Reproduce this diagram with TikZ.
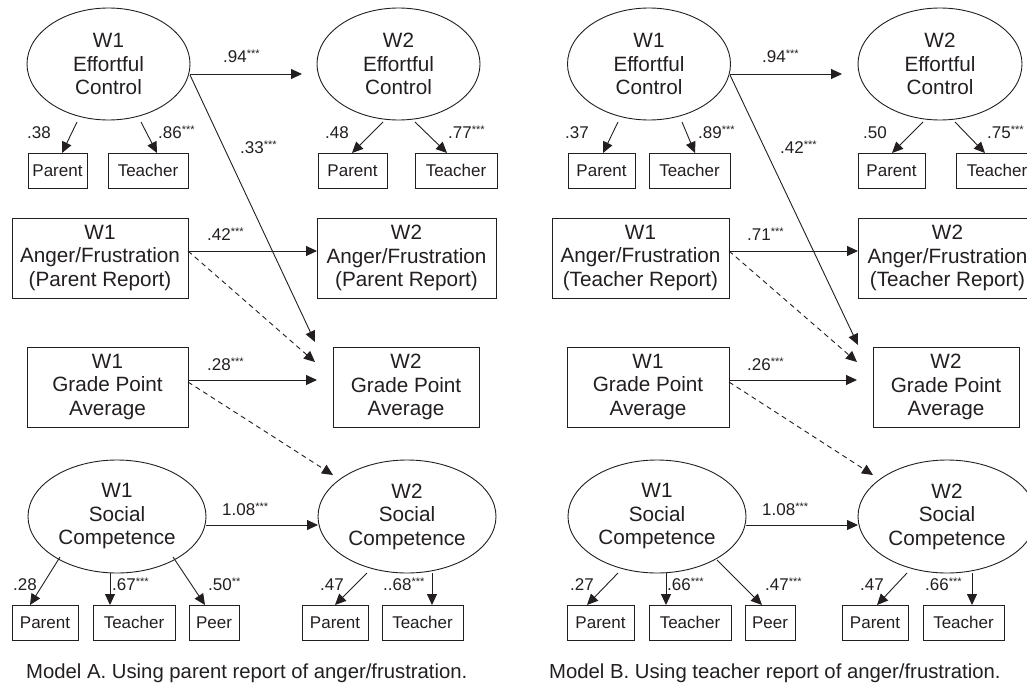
\documentclass[tikz,border=0pt]{standalone}
\usepackage{fontspec}
\setmainfont{Liberation Sans}
\usetikzlibrary{shapes.geometric,arrows.meta,calc}
\definecolor{ink}{HTML}{231F20}
\newcommand\sig[1]{\raisebox{5pt}{\fontsize{11}{11}\selectfont #1}}
\tikzset{
  lat/.style={ellipse,draw=ink,line width=0.9pt,inner sep=0pt,minimum width=163pt,minimum height=112pt,align=center,text=ink,font=\fontsize{20.7}{23.5}\selectfont},
  bigbox/.style={rectangle,draw=ink,line width=0.9pt,inner sep=0pt,minimum height=80pt,align=center,text=ink,font=\fontsize{20.7}{23.5}\selectfont},
  ind/.style={rectangle,draw=ink,line width=0.9pt,inner sep=0pt,minimum height=35pt,text=ink,font=\fontsize{17}{19}\selectfont},
  lab/.style={anchor=base west,inner sep=0pt,text=ink,font=\fontsize{17}{18}\selectfont},
  captxt/.style={anchor=base west,inner sep=0pt,text=ink,font=\fontsize{20.3}{24}\selectfont},
  arr/.style={draw=ink,line width=0.9pt,-{Triangle[length=11pt,width=10pt]}},
  darr/.style={arr,dash pattern=on 5pt off 4pt},
}
\begin{document}
\begin{tikzpicture}[x=1pt,y=-1pt]
\useasboundingbox (0,0) rectangle (1027,685);
\clip (0,0) rectangle (1027,685);
\fill[white] (0,0) rectangle (1027,685);

% ================= Panel A =================
\node[lat] (ec1A) at (108.5,64) {W1\\Effortful\\Control};
\node[lat] (ec2A) at (398.5,64) {W2\\Effortful\\Control};
\node[ind,minimum width=59pt] (p1A) at (57.5,170.5) {Parent};
\node[ind,minimum width=80pt] (t1A) at (148,170.5) {Teacher};
\node[ind,minimum width=69pt] (p2A) at (352.5,170.5) {Parent};
\node[ind,minimum width=82pt] (t2A) at (456,170.5) {Teacher};
\node[bigbox,minimum width=176pt] (ang1A) at (100,258) {W1\\Anger/Frustration\\(Parent Report)};
\node[bigbox,minimum width=179pt] (ang2A) at (406.5,258) {W2\\Anger/Frustration\\(Parent Report)};
\node[bigbox,minimum width=161pt] (gpa1A) at (107.5,387) {W1\\Grade Point\\Average};
\node[bigbox,minimum width=146pt] (gpa2A) at (406,387) {W2\\Grade Point\\Average};
\node[lat,minimum width=178pt,minimum height=113pt] (sc1A) at (117,516.5) {W1\\Social\\Competence};
\node[lat,minimum width=178pt,minimum height=113pt] (sc2A) at (407,516.5) {W2\\Social\\Competence};
\node[ind,minimum width=66pt] (bp1A) at (45,622.5) {Parent};
\node[ind,minimum width=82pt] (bt1A) at (134,622.5) {Teacher};
\node[ind,minimum width=50pt] (bpe1A) at (214,622.5) {Peer};
\node[ind,minimum width=66pt] (bp2A) at (335,622.5) {Parent};
\node[ind,minimum width=81pt] (bt2A) at (422.5,622.5) {Teacher};

\draw[arr] ($(ec1A)+(81.5,10)$) -- ($(ec2A)+(-96.5,10)$);
\draw[arr] ($(ec1A)+(81.5,11)$) -- ($(gpa2A)+(-91,-45)$);
\draw[arr] ($(ec1A)+(-31.5,58)$) -- ($(p1A)+(4.5,-17.5)$);
\draw[arr] ($(ec1A)+(32.5,58)$) -- ($(t1A)+(9,-17.5)$);
\draw[arr] ($(ec2A)+(-15.5,58)$) -- ($(p2A)+(-0.5,-17.5)$);
\draw[arr] ($(ec2A)+(16.5,58)$) -- ($(t2A)+(-9,-17.5)$);
\draw[arr] ($(ang1A)+(88,-7)$) -- ($(ang2A)+(-89.5,-7)$);
\draw[darr] ($(ang1A)+(88,-7)$) -- ($(gpa2A)+(-91,-25)$);
\draw[arr] ($(gpa1A)+(80.5,-7)$) -- ($(gpa2A)+(-89,-7)$);
\draw[darr] ($(gpa1A)+(80.5,-5)$) -- ($(sc2A)+(-74,-41.5)$);
\draw[arr] ($(sc1A)+(89,8.5)$) -- ($(sc2A)+(-89,8.5)$);
\draw[arr] ($(sc1A)+(-57,40.5)$) -- ($(bp1A)+(-15,-17.5)$);
\draw[arr] ($(sc1A)+(-7,56.5)$) -- ($(bt1A)+(-24,-17.5)$);
\draw[arr] ($(sc1A)+(56,40.5)$) -- ($(bpe1A)+(-9,-17.5)$);
\draw[arr] ($(sc2A)+(-40,56.5)$) -- ($(bp2A)+(0,-17.5)$);
\draw[arr] ($(sc2A)+(25,56.5)$) -- ($(bt2A)+(9.5,-17.5)$);

\node[lab] (lA1) at (223,63) {.94\sig{***}};
\node[lab] (lA2) at (240,153) {.33\sig{***}};
\node[lab] (lA3) at (27,138) {.38};
\node[lab] (lA4) at (158,138) {.86\sig{***}};
\node[lab] (lA5) at (325,138) {.48};
\node[lab] (lA6) at (448,138) {.77\sig{***}};
\node[lab] (lA7) at (207,240) {.42\sig{***}};
\node[lab] (lA8) at (207,370) {.28\sig{***}};
\node[lab] (lA9) at (222,515) {1.08\sig{***}};
\node[lab] (lA10) at (13,590) {.28};
\node[lab] (lA11) at (112,590) {.67\sig{***}};
\node[lab] (lA12) at (208,590) {.50\sig{**}};
\node[lab] (lA13) at (320,590) {.47};
\node[lab] (lA14) at (383,590) {..68\sig{***}};
\node[captxt] (capA) at (26,678) {Model A. Using parent report of anger/frustration.};

% ================= Panel B =================
\node[lat] (ec1B) at (649,64) {W1\\Effortful\\Control};
\node[lat,minimum width=164pt] (ec2B) at (940,64) {W2\\Effortful\\Control};
\node[ind,minimum width=67pt] (p1B) at (601.5,170.5) {Parent};
\node[ind,minimum width=81pt] (t1B) at (689.5,170.5) {Teacher};
\node[ind,minimum width=67pt] (p2B) at (891.5,170.5) {Parent};
\node[ind,minimum width=82pt] (t2B) at (997,170.5) {Teacher};
\node[bigbox,minimum width=177pt] (ang1B) at (640.5,258) {W1\\Anger/Frustration\\(Teacher Report)};
\node[bigbox,minimum width=179pt] (ang2B) at (947.5,258) {W2\\Anger/Frustration\\(Teacher Report)};
\node[bigbox,minimum width=162pt] (gpa1B) at (648,387) {W1\\Grade Point\\Average};
\node[bigbox,minimum width=146pt] (gpa2B) at (946,387) {W2\\Grade Point\\Average};
\node[lat,minimum width=178pt,minimum height=113pt] (sc1B) at (657,516.5) {W1\\Social\\Competence};
\node[lat,minimum width=178pt,minimum height=113pt] (sc2B) at (947,516.5) {W2\\Social\\Competence};
\node[ind,minimum width=67pt] (bp1B) at (600.5,622.5) {Parent};
\node[ind,minimum width=82pt] (bt1B) at (690,622.5) {Teacher};
\node[ind,minimum width=50pt] (bpe1B) at (770,622.5) {Peer};
\node[ind,minimum width=66pt] (bp2B) at (875,622.5) {Parent};
\node[ind,minimum width=81pt] (bt2B) at (963.5,622.5) {Teacher};

\draw[arr] ($(ec1B)+(81,10)$) -- ($(ec2B)+(-98,10)$);
\draw[arr] ($(ec1B)+(81,11)$) -- ($(gpa2B)+(-88,-42)$);
\draw[arr] ($(ec1B)+(-31,58)$) -- ($(p1B)+(1.5,-17.5)$);
\draw[arr] ($(ec1B)+(33,58)$) -- ($(t1B)+(5.5,-17.5)$);
\draw[arr] ($(ec2B)+(-17,58)$) -- ($(p2B)+(0.5,-17.5)$);
\draw[arr] ($(ec2B)+(15,58)$) -- ($(t2B)+(-12,-17.5)$);
\draw[arr] ($(ang1B)+(88.5,-7)$) -- ($(ang2B)+(-89.5,-7)$);
\draw[darr] ($(ang1B)+(88.5,-7)$) -- ($(gpa2B)+(-89,-25)$);
\draw[arr] ($(gpa1B)+(81,-7)$) -- ($(gpa2B)+(-89,-7)$);
\draw[darr] ($(gpa1B)+(81,-5)$) -- ($(sc2B)+(-74,-41.5)$);
\draw[arr] ($(sc1B)+(89,8.5)$) -- ($(sc2B)+(-89,8.5)$);
\draw[arr] ($(sc1B)+(-39,56.5)$) -- ($(bp1B)+(-13.5,-17.5)$);
\draw[arr] ($(sc1B)+(9,56.5)$) -- ($(bt1B)+(-24,-17.5)$);
\draw[arr] ($(sc1B)+(60,43.5)$) -- ($(bpe1B)+(-8,-17.5)$);
\draw[arr] ($(sc2B)+(-40,56.5)$) -- ($(bp2B)+(2,-17.5)$);
\draw[arr] ($(sc2B)+(25,56.5)$) -- ($(bt2B)+(8.5,-17.5)$);

\node[lab] (lB1) at (762,63) {.94\sig{***}};
\node[lab] (lB2) at (780,153) {.42\sig{***}};
\node[lab] (lB3) at (565,138) {.37};
\node[lab] (lB4) at (698,138) {.89\sig{***}};
\node[lab] (lB5) at (863,138) {.50};
\node[lab] (lB6) at (987,138) {.75\sig{***}};
\node[lab] (lB7) at (747,240) {.71\sig{***}};
\node[lab] (lB8) at (747,370) {.26\sig{***}};
\node[lab] (lB9) at (762,515) {1.08\sig{***}};
\node[lab] (lB10) at (570,590) {.27};
\node[lab] (lB11) at (667,590) {.66\sig{***}};
\node[lab] (lB12) at (765,590) {.47\sig{***}};
\node[lab] (lB13) at (860,590) {.47};
\node[lab] (lB14) at (925,590) {.66\sig{***}};
\node[captxt] (capB) at (549,678) {Model B. Using teacher report of anger/frustration.};
\end{tikzpicture}
\end{document}
